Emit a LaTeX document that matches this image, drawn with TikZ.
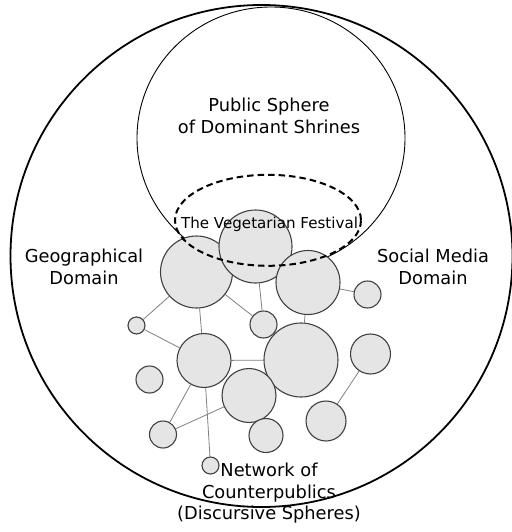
\documentclass[tikz,border=0pt]{standalone}
\usepackage{fontspec}
\setmainfont{DejaVu Sans}
\pgfdeclarelayer{bg}
\pgfsetlayers{bg,main}
\tikzset{
  bubble/.style={circle, draw=black!75, fill=gray!20, line width=1.1pt, inner sep=0pt, minimum size=#1},
  link/.style={draw=black!50, line width=0.8pt},
  lbl/.style={inner sep=0pt, align=center, font=\fontsize{17.8}{21.3}\selectfont},
}
\begin{document}
\begin{tikzpicture}[x=1pt,y=-1pt]
\useasboundingbox (0,0) rectangle (511,532);
% bubbles
\node[bubble=72pt] (c1) at (196.5,272) {};
\node[bubble=73pt] (c2) at (255.5,246.5) {};
\node[bubble=64pt] (c3) at (308,282.5) {};
\node[bubble=27pt] (c4) at (367.5,294.5) {};
\node[bubble=17pt] (c5) at (136.5,325.5) {};
\node[bubble=27pt] (c6) at (263.5,324.5) {};
\node[bubble=54pt] (c7) at (204,360.5) {};
\node[bubble=74pt] (c8) at (301,360) {};
\node[bubble=40pt] (c9) at (370.5,354) {};
\node[bubble=27pt] (c10) at (149.5,379.5) {};
\node[bubble=54pt] (c11) at (249,395.5) {};
\node[bubble=27pt] (c12) at (163,434.5) {};
\node[bubble=34pt] (c13) at (266,435.5) {};
\node[bubble=40pt] (c14) at (326,421) {};
\node[bubble=17pt] (c15) at (210.5,465.5) {};
\begin{pgfonlayer}{bg}
\draw[line width=1.8pt] (261.5,256) circle[radius=251];
\draw[line width=0.9pt] (271,138) ellipse[x radius=134, y radius=131];
\draw[link] (c5) -- (c1);
\draw[link] (c5) -- (c7);
\draw[link] (c1) -- (c7);
\draw[link] (c1) -- (c6);
\draw[link] (c2) -- (c6);
\draw[link] (c3) -- (c4);
\draw[link] (c3) -- (c8);
\draw[link] (c7) -- (c8);
\draw[link] (c7) -- (c12);
\draw[link] (c7) -- (c15);
\draw[link] (c11) -- (c12);
\draw[link] (c9) -- (c14);
\end{pgfonlayer}
\draw[line width=2pt, dash pattern=on 6.5pt off 4pt] (268,220.3) ellipse[x radius=93, y radius=45.5];
% labels
\node[lbl] (ps) at (269,116) {Public Sphere\\of Dominant Shrines};
\node[inner sep=0pt, font=\fontsize{15.1}{18}\selectfont] (vf) at (269.5,224.2) {The Vegetarian Festival};
\node[lbl] (geo) at (84,267) {Geographical\\Domain};
\node[lbl] (sm) at (433,267) {Social Media\\Domain};
\node[lbl] (net) at (269,493.2) {Network of\\Counterpublics\\(Discursive Spheres)};
\end{tikzpicture}
\end{document}
